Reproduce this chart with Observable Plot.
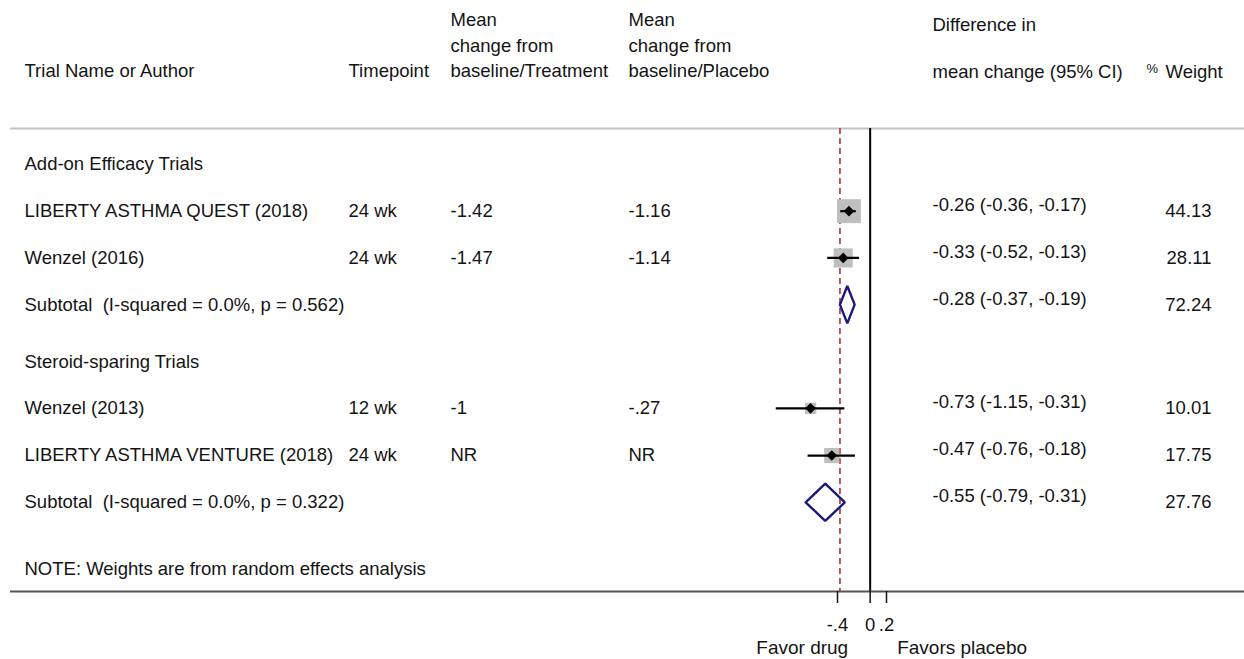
<!DOCTYPE html>
<html>
<head>
<meta charset="utf-8">
<script src="https://cdn.jsdelivr.net/npm/d3@7"></script>
<script src="https://cdn.jsdelivr.net/npm/@observablehq/plot@0.6"></script>
<style>
  html, body { margin: 0; padding: 0; background: #fff; }
  #chart svg { display: block; }
</style>
</head>
<body>
<div id="chart"></div>
<script>
// ---- data ----
const studies = ["LIBERTY ASTHMA QUEST (2018)", "Wenzel (2016)", "Wenzel (2013)", "LIBERTY ASTHMA VENTURE (2018)"];
const timepoints = ["24 wk", "24 wk", "12 wk", "24 wk"];
const treatment = ["-1.42", "-1.47", "-1", "NR"];
const placebo = ["-1.16", "-1.14", "-.27", "NR"];
const est = [-0.26, -0.33, -0.73, -0.47];
const lo = [-0.36, -0.52, -1.15, -0.76];
const hi = [-0.17, -0.13, -0.31, -0.18];
const weight = [44.13, 28.11, 10.01, 17.75];

const groupLabels = ["Add-on Efficacy Trials", "Steroid-sparing Trials"];
const subLabels = ["Subtotal\u00a0 (I-squared = 0.0%, p = 0.562)", "Subtotal\u00a0 (I-squared = 0.0%, p = 0.322)"];
const subEst = [-0.28, -0.55];
const subLo = [-0.37, -0.79];
const subHi = [-0.19, -0.31];
const subWeight = [72.24, 27.76];

const overallEst = -0.37;
const xTicks = [-0.4, 0, 0.2];
const xTickLabels = ["-.4", "0", ".2"];
const favorLabels = ["Favor drug", "Favors placebo"];
const note = "NOTE: Weights are from random effects analysis";

const headerTrial = ["Trial Name or Author"];
const headerTime = ["Timepoint"];
const headerTreat = ["Mean", "change from", "baseline/Treatment"];
const headerPlacebo = ["Mean", "change from", "baseline/Placebo"];
const headerDiff = ["Difference in", "mean change (95% CI)"];
const headerWeight = ["Weight"];

// ---- layout ----
const width = 1244, height = 659;
const font = "'Liberation Sans', Arial, Helvetica, sans-serif";
const ink = "#141414";
const fs = 18.5;
const col = {name: 24, time: 348, treat: 450, placebo: 628, ci: 932, weightRight: 1211, pct: 1146, weightHdr: 1165};
const slots = {groups: [0, 4.23], studies: [1, 2, 5.22, 6.23], subtotals: [3, 7.23], note: 8.65};
const yDomain = [-0.77, 9.14];        // frame top rule .. bottom axis line, in row units
const diamondHalf = 0.4;              // subtotal diamond half height, row units

const fmt = v => v.toFixed(2);
const ciText = d => `${fmt(d.est)} (${fmt(d.lo)}, ${fmt(d.hi)})`;

const studyRows = studies.map((name, i) => ({
  slot: slots.studies[i], name, time: timepoints[i], treat: treatment[i], placebo: placebo[i],
  est: est[i], lo: lo[i], hi: hi[i], weight: weight[i]
}));
const subRows = subLabels.map((name, k) => ({
  slot: slots.subtotals[k], name, est: subEst[k], lo: subLo[k], hi: subHi[k], weight: subWeight[k]
}));
const groupRows = groupLabels.map((name, k) => ({slot: slots.groups[k], name}));
const allRows = [...studyRows, ...subRows];

const diamonds = subRows.flatMap((d, k) => [
  [d.lo, d.slot], [d.est, d.slot - diamondHalf], [d.hi, d.slot], [d.est, d.slot + diamondHalf], [d.lo, d.slot]
].map(([x, y]) => ({x, y, k})));

const leftText = (data, opts) => Plot.text(data, {
  frameAnchor: "left", textAnchor: "start", fontSize: fs, fill: ink, ...opts
});

// a column header: last line sits on the header row, earlier lines stacked above it
function header(lines, lastSlot, step, x) {
  const rows = lines.map((t, i) => ({t, slot: lastSlot - (lines.length - 1 - i) * step}));
  return leftText(rows, {y: "slot", text: "t", dx: x});
}

const chart = Plot.plot({
  width, height,
  marginLeft: 0, marginRight: 0, marginTop: 128, marginBottom: height - 591,
  style: {fontFamily: font, fontSize: fs + "px", color: ink, background: "#fff"},
  x: {domain: [-0.4, 0.2], range: [837, 886], axis: null},
  y: {domain: [yDomain[1], yDomain[0]], axis: null},
  r: {type: "sqrt", domain: [0, d3.max(weight)], range: [0, 13.5]},
  marks: [
    // frame rules
    Plot.ruleY([yDomain[0]], {y: d => d, stroke: "#c4c4c4", strokeWidth: 2, insetLeft: 10}),
    // pooled estimate and line of no effect
    Plot.ruleX([overallEst], {x: d => d, stroke: "#b04a55", strokeWidth: 1.8, strokeDasharray: "6,4"}),
    Plot.ruleX([0], {x: d => d, stroke: "#000", strokeWidth: 2}),
    // study weights as boxes
    Plot.dot(studyRows, {x: "est", y: "slot", r: "weight", symbol: "square", fill: "#bfbfbf", stroke: "none"}),
    // confidence intervals
    Plot.ruleY(studyRows, {y: "slot", x1: "lo", x2: "hi", stroke: "#000", strokeWidth: 2.2}),
    // point estimates
    Plot.dot(studyRows, {x: "est", y: "slot", r: 4.8, symbol: "diamond2", fill: "#000", stroke: "none"}),
    // subtotal diamonds
    Plot.line(diamonds, {x: "x", y: "y", z: "k", stroke: "#1a1a7e", strokeWidth: 2.4, strokeLinejoin: "miter"}),
    // bottom axis line and ticks
    Plot.ruleY([yDomain[1]], {y: d => d, stroke: "#555", strokeWidth: 2, insetLeft: 10}),
    Plot.axisX({ticks: xTicks, tickFormat: d => xTickLabels[xTicks.indexOf(d)], anchor: "bottom",
      tickSize: 12, tickPadding: 14, fontSize: fs, strokeWidth: 1.5, label: null}),
    Plot.text(favorLabels.slice(0, 1), {x: () => 0, text: d => d, frameAnchor: "bottom", textAnchor: "end",
      dx: -22, dy: 62, fontSize: 19, fill: ink}),
    Plot.text(favorLabels.slice(1), {x: () => 0, text: d => d, frameAnchor: "bottom", textAnchor: "start",
      dx: 27, dy: 62, fontSize: 19, fill: ink}),
    // column headers
    header(headerTrial, -2.0, 0.54, col.name),
    header(headerTime, -2.0, 0.54, col.time),
    header(headerTreat, -2.0, 0.54, col.treat),
    header(headerPlacebo, -2.0, 0.54, col.placebo),
    header(headerDiff, -1.98, 1.0, col.ci),
    header(headerWeight, -1.98, 1.0, col.weightHdr),
    Plot.text(["%"], {y: () => -1.98, text: d => d, frameAnchor: "left", textAnchor: "start",
      dx: col.pct, dy: -3, fontSize: 13, fill: ink}),
    // table columns
    leftText(groupRows, {y: "slot", text: "name", dx: col.name}),
    leftText(allRows, {y: "slot", text: "name", dx: col.name}),
    leftText(studyRows, {y: "slot", text: "time", dx: col.time}),
    leftText(studyRows, {y: "slot", text: "treat", dx: col.treat}),
    leftText(studyRows, {y: "slot", text: "placebo", dx: col.placebo}),
    leftText(allRows, {y: "slot", text: ciText, dx: col.ci, dy: -6}),
    Plot.text(allRows, {y: "slot", text: d => fmt(d.weight), frameAnchor: "left", textAnchor: "end",
      dx: col.weightRight, fontSize: fs, fill: ink}),
    leftText([note], {y: () => slots.note, text: d => d, dx: col.name})
  ]
});

document.getElementById("chart").append(chart);
</script>
</body>
</html>
